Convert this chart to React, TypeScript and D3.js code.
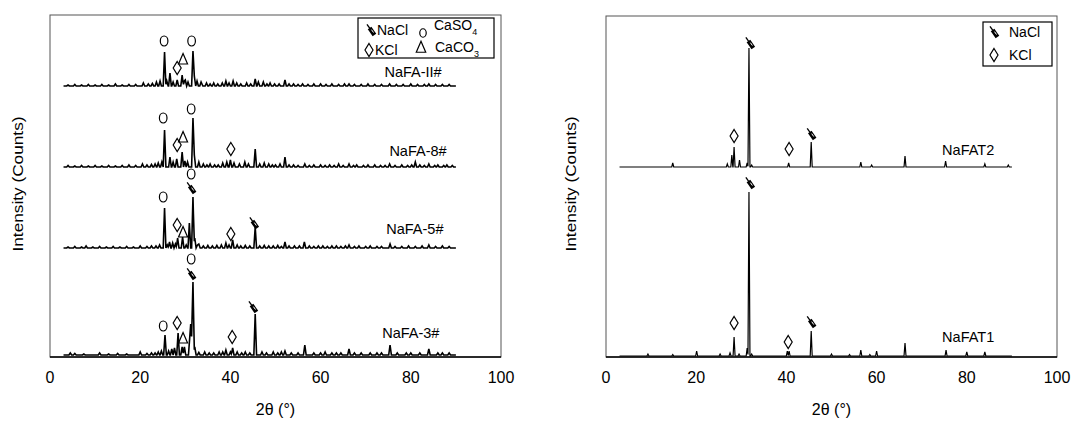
import React from "react";
import * as d3 from "d3";

// ---------- data ----------
const X_TICKS = [0, 20, 40, 60, 80, 100];
const SCAN_START = 3;
const SCAN_END = 90;

// [2θ, height, halfWidth?]
const naFA3Peaks = [[25.5, 20], [27, 6], [27.6, 7], [28.4, 22], [29.3, 8], [29.8, 8], [31.2, 31, 0.5], [31.7, 73], [32.1, 8], [39, 5], [40.5, 7], [45.5, 41], [52.1, 4], [56.5, 10], [66.3, 6], [75.4, 10], [84, 6]];
const naFA3Noise = [[4.5, 2], [5.5, 1.5], [7.5, 1], [11, 2], [13, 1], [15, 1.5], [17, 1], [20, 3], [21.5, 1.5], [22.5, 2], [23.3, 2], [24, 3], [24.7, 4], [26.3, 4], [33, 2.5], [34.3, 3], [35.3, 2], [36.3, 2], [37.5, 3], [38.3, 3], [40, 3], [41.5, 3], [42.5, 2], [43.3, 3], [44.3, 2], [47, 3], [48, 2], [49.5, 3], [50.5, 2], [51.3, 3], [53.5, 2], [55, 2], [58.5, 2], [60, 2], [61, 3], [62.5, 2], [63.5, 2], [64.5, 2], [67.5, 2], [69, 2], [71, 2], [72.5, 2], [73.5, 2], [77, 2], [79, 2], [80, 2], [82, 2], [86, 2], [87, 2], [88.5, 2]];

const naFA5Peaks = [[25.4, 40], [26.5, 6], [27.2, 5], [28.3, 10], [29.4, 11], [30.9, 25], [31.7, 51], [32.1, 10], [33, 4], [39, 5], [40.5, 8], [41.5, 3], [45.5, 21], [52.1, 6], [56.4, 6], [66.3, 3], [75.4, 4], [84, 3]];
const naFA5Noise = [[4, 1], [5.5, 1.5], [7, 1], [8, 2], [9.5, 1], [11, 1.5], [12.5, 1], [14, 1.5], [15.5, 1], [17, 1.5], [18.5, 1], [20, 2], [21.5, 1.5], [22.5, 2], [23.5, 2], [24.3, 3], [26, 3], [27.8, 4], [30.2, 3], [32.7, 3], [34, 2], [35, 2.5], [36, 2], [37, 2.5], [38, 3], [39.7, 3], [42.3, 2], [43.3, 2.5], [44.3, 2], [46.5, 2], [47.5, 2.5], [48.5, 2], [49.5, 2], [50.5, 2.5], [51.3, 1.5], [53, 2], [54.2, 2], [55.3, 2], [57.5, 2], [58.5, 1.5], [59.5, 2], [60.5, 2], [61.5, 1.5], [62.5, 2], [63.5, 2], [64.5, 1.5], [65.5, 2], [67.5, 1.5], [68.5, 2], [70, 1.5], [71, 2], [72.5, 1.5], [73.5, 1.5], [76.5, 1.5], [78, 1.5], [79.5, 2], [81, 1.5], [82.5, 2], [85.5, 1.5], [87, 2], [88.5, 1.5]];

const naFA8Peaks = [[25.4, 37], [26.6, 10], [28.1, 8], [29.3, 15], [29.9, 6], [31.7, 49], [32.0, 12], [45.5, 18], [52.1, 10], [81, 5]];
const naFA8Noise = [[4, 1.5], [5.5, 1], [7, 1.5], [8.5, 1], [10, 1.5], [11.5, 1], [13, 1.5], [14.5, 1], [16, 1.5], [17.5, 2], [19, 1.5], [20.5, 3], [21.5, 2], [22.5, 2.5], [23.3, 3], [24, 4], [24.8, 5], [27.3, 5], [30.5, 5], [33, 5], [34, 3], [34.8, 2], [35.5, 3], [36.5, 2], [37.3, 2], [38.3, 4], [39.2, 5], [40, 7], [40.8, 4], [42, 3], [43.2, 5], [44, 3], [46.5, 3], [47.5, 4], [48.5, 3], [49.3, 2], [50, 2], [51, 3], [53, 2], [54, 2], [55, 1.5], [56.5, 3], [57.5, 1.5], [58.5, 2], [60, 2], [61, 1.5], [62, 2], [63, 1.5], [64, 3], [65, 1.5], [66.3, 3], [67.3, 1.5], [68, 2], [69.5, 1.5], [70.5, 2], [72, 2], [73.3, 1.5], [74.3, 1.5], [75.3, 3], [76.5, 1.5], [78, 2], [79.3, 1.5], [80.2, 2], [82, 2], [83, 1.5], [84, 3], [85.3, 1.5], [86, 2], [87.3, 1.5], [88, 2], [89.2, 1.5]];

const naFAIIPeaks = [[25.4, 34], [26.6, 13], [28.2, 6], [29.3, 11], [29.8, 5], [31.7, 35], [32.0, 10], [32.6, 5], [33.5, 4]];
const naFAIINoise = [[4, 1], [5.5, 1.5], [7, 1], [8.5, 1.5], [10, 1], [11.5, 1.5], [13, 1], [14.5, 2], [16, 1], [17.5, 1.5], [19, 1.5], [20.7, 3], [21.8, 2], [22.7, 2.5], [23.6, 4], [24.4, 5], [25.9, 5], [27.3, 4], [30, 6], [30.6, 4], [33.6, 3], [34.7, 3], [35.5, 2], [36.3, 3], [37.2, 2], [38.2, 3], [39, 5], [39.7, 3], [40.6, 5], [41.4, 3], [42.3, 2], [43.6, 3], [44.5, 2], [45.5, 7], [46.2, 4], [47.3, 4], [48.1, 2], [48.8, 3], [49.8, 2], [50.8, 2], [52.1, 6], [53, 2], [54, 2], [55, 1.5], [56, 2], [57.2, 1.5], [58.5, 2], [60, 2], [61.2, 1.5], [62.5, 2], [64, 1.5], [65.3, 2], [66.3, 2], [67.5, 1.5], [69, 1.5], [70.5, 2], [72, 1.5], [73.5, 1.5], [75.3, 2], [76.8, 1.5], [78.3, 1.5], [80, 2], [81.5, 1.5], [83, 1.5], [84, 2], [85.5, 1.5], [87, 1.5], [88.5, 1.5]];

const naFAT1Peaks = [[9.3, 2], [14.8, 1.5], [20.1, 5], [25.3, 2], [27.5, 3], [28.4, 19], [29.5, 2], [31.3, 8], [31.7, 164], [32.3, 2], [40.2, 5], [40.6, 5], [45.5, 25], [50, 2], [54, 1.5], [56.5, 6], [58.5, 1.5], [60, 5], [66.3, 13], [75.4, 6], [80, 4], [84, 4]];
const naFAT2Peaks = [[14.8, 4], [26.9, 3], [27.9, 12], [28.4, 20], [29.6, 7], [31.3, 4], [31.7, 119], [32.3, 2], [40.5, 4], [45.5, 25], [56.5, 5], [58.9, 2], [66.3, 11], [75.3, 6], [84, 3], [89.2, 2]];

const leftNames = ["NaFA-3#", "NaFA-5#", "NaFA-8#", "NaFA-II#"];
const leftOffsets = [2, 109, 190, 271];
const rightNames = ["NaFAT1", "NaFAT2"];
const rightOffsets = [1, 190];

// phase markers: [type, 2θ, height above baseline]
const marks3 = [["caso4", 25.1, 29], ["kcl", 28.2, 32], ["caco3", 29.5, 17], ["caso4", 31.3, 96], ["nacl", 31.3, 81], ["kcl", 40.4, 18], ["nacl", 45.0, 48]];
const marks5 = [["caso4", 25.1, 51], ["caso4", 31.3, 74], ["nacl", 31.3, 60], ["kcl", 28.2, 23], ["caco3", 29.5, 16], ["kcl", 40.1, 14], ["nacl", 45.2, 25]];
const marks8 = [["caso4", 25.1, 49], ["caso4", 31.3, 58], ["kcl", 28.2, 22], ["caco3", 29.5, 30], ["kcl", 40.1, 18]];
const marksII = [["caso4", 25.3, 45], ["caso4", 31.4, 45], ["kcl", 28.2, 18], ["caco3", 29.5, 27]];
const marksT1 = [["nacl", 31.9, 173], ["kcl", 28.4, 33], ["kcl", 40.4, 14], ["nacl", 45.5, 34]];
const marksT2 = [["nacl", 31.9, 124], ["kcl", 28.4, 31], ["kcl", 40.6, 18], ["nacl", 45.5, 33]];

const leftLabelPos = [[80, 22], [80.9, 19], [81.6, 16], [80.5, 14]];
const rightLabelPos = [[80.3, 19], [80.3, 17]];

// ---------- helpers ----------
const FONT = "Liberation Sans, Arial, Helvetica, sans-serif";
const DEFAULT_HW = 0.22;

function profile(peaks: number[][], hw: number): [number, number][] {
  const xs = new Set<number>([SCAN_START, SCAN_END]);
  peaks.forEach((p) => {
    const w = p[2] ?? hw;
    xs.add(p[0] - w);
    xs.add(p[0]);
    xs.add(p[0] + w);
  });
  const sorted = Array.from(xs).filter((x) => x >= SCAN_START && x <= SCAN_END).sort((a, b) => a - b);
  return sorted.map((x) => {
    let y = 0;
    peaks.forEach((p) => {
      const w = p[2] ?? hw;
      const v = p[1] * Math.max(0, 1 - Math.abs(x - p[0]) / w);
      if (v > y) y = v;
    });
    return [x, y];
  });
}

function Mark({ type, x, y, s = 1 }: { type: string; x: number; y: number; s?: number }) {
  if (type === "caso4") return <ellipse cx={x} cy={y} rx={3.8 * s} ry={5 * s} fill="none" stroke="#000" strokeWidth={1.2} />;
  if (type === "kcl") return <path d={`M${x},${y - 6.5 * s}L${x + 4 * s},${y}L${x},${y + 6.5 * s}L${x - 4 * s},${y}Z`} fill="none" stroke="#000" strokeWidth={1.2} />;
  if (type === "caco3") return <path d={`M${x},${y - 5.5 * s}L${x + 4.5 * s},${y + 5 * s}L${x - 4.5 * s},${y + 5 * s}Z`} fill="none" stroke="#000" strokeWidth={1.2} />;
  // NaCl: slanted wedge
  return (
    <g transform={`translate(${x},${y}) rotate(55) scale(${s})`}>
      <line x1={-7} y1={0} x2={-2} y2={0} stroke="#000" strokeWidth={1.3} />
      <path d="M-2.5,-2.2L6,-2.2L6,2.2L-2.5,2.2Z" fill="#000" />
      <line x1={0} y1={-0.6} x2={3.5} y2={-0.6} stroke="#fff" strokeWidth={0.9} />
    </g>
  );
}

function Panel({ left, right, top, bottom, series, names, offsets, labelPos, marks, lw, hw }: any) {
  const x = d3.scaleLinear().domain([0, 100]).range([left, right]);
  const y = d3.scaleLinear().domain([0, bottom - top]).range([bottom, top]);
  const line = d3.line<[number, number]>().x((d) => x(d[0])).y((d) => y(d[1]));
  return (
    <g>
      {series.map((pk: number[][], i: number) => {
        const pts = profile(pk, hw).map(([a, b]) => [a, b + offsets[i]] as [number, number]);
        return <path key={i} d={line(pts) || ""} fill="none" stroke="#000" strokeWidth={lw} strokeLinejoin="miter" />;
      })}
      {marks.map((ms: any[], i: number) =>
        ms.map((m: any, j: number) => <Mark key={i + "-" + j} type={m[0]} x={x(m[1])} y={y(offsets[i] + m[2])} />)
      )}
      {names.map((n: string, i: number) => (
        <text key={n} x={x(labelPos[i][0])} y={y(offsets[i] + labelPos[i][1]) + 5} textAnchor="middle" fontFamily={FONT} fontSize={14.5}>
          {n}
        </text>
      ))}
      <rect x={left} y={top} width={right - left} height={bottom - top} fill="none" stroke="#555" strokeWidth={1} />
      <line x1={left} x2={right} y1={bottom} y2={bottom} stroke="#000" strokeWidth={1.6} />
      {X_TICKS.map((t) => (
        <text key={t} x={x(t)} y={bottom + 26} textAnchor="middle" fontFamily={FONT} fontSize={16}>
          {t}
        </text>
      ))}
      <text x={(left + right) / 2} y={bottom + 58} textAnchor="middle" fontFamily={FONT} fontSize={16}>
        2θ (°)
      </text>
    </g>
  );
}

export default function App() {
  const leftSeries = [naFA3Peaks.concat(naFA3Noise), naFA5Peaks.concat(naFA5Noise), naFA8Peaks.concat(naFA8Noise), naFAIIPeaks.concat(naFAIINoise)];
  const rightSeries = [naFAT1Peaks, naFAT2Peaks];
  return (
    <svg width={1072} height={421} style={{ position: "absolute", left: 0, top: 0, background: "#fff" }}>
      <rect width={1072} height={421} fill="#fff" />
      <Panel left={50} right={501} top={15} bottom={357} series={leftSeries} names={leftNames} offsets={leftOffsets}
        labelPos={leftLabelPos} marks={[marks3, marks5, marks8, marksII]} lw={1.6} hw={0.3} />
      <Panel left={606} right={1057} top={16} bottom={357} series={rightSeries} names={rightNames} offsets={rightOffsets}
        labelPos={rightLabelPos} marks={[marksT1, marksT2]} lw={1.2} hw={0.22} />
      <text transform="translate(23,184) rotate(-90)" textAnchor="middle" fontFamily={FONT} fontSize={15} textLength={135} lengthAdjust="spacingAndGlyphs">Intensity (Counts)</text>
      <text transform="translate(576,184) rotate(-90)" textAnchor="middle" fontFamily={FONT} fontSize={15} textLength={135} lengthAdjust="spacingAndGlyphs">Intensity (Counts)</text>

      {/* left legend */}
      <rect x={358} y={18} width={136} height={40} fill="#fff" stroke="#000" strokeWidth={1.2} />
      <Mark type="nacl" x={371} y={30} />
      <text x={377} y={35} fontFamily={FONT} fontSize={14}>NaCl</text>
      <Mark type="caso4" x={423} y={33} s={0.85} />
      <text x={434} y={30} fontFamily={FONT} fontSize={14}>CaSO<tspan fontSize={9} dy={5}>4</tspan></text>
      <Mark type="kcl" x={369} y={50} />
      <text x={375} y={55} fontFamily={FONT} fontSize={14}>KCl</text>
      <Mark type="caco3" x={421} y={47} s={1.05} />
      <text x={435} y={52} fontFamily={FONT} fontSize={14}>CaCO<tspan fontSize={9} dy={5}>3</tspan></text>

      {/* right legend */}
      <rect x={983} y={22} width={69} height={44} fill="#fff" stroke="#000" strokeWidth={1.2} />
      <Mark type="nacl" x={994} y={32} />
      <text x={1009} y={37} fontFamily={FONT} fontSize={14}>NaCl</text>
      <Mark type="kcl" x={994} y={55} />
      <text x={1009} y={60} fontFamily={FONT} fontSize={14}>KCl</text>
    </svg>
  );
}
